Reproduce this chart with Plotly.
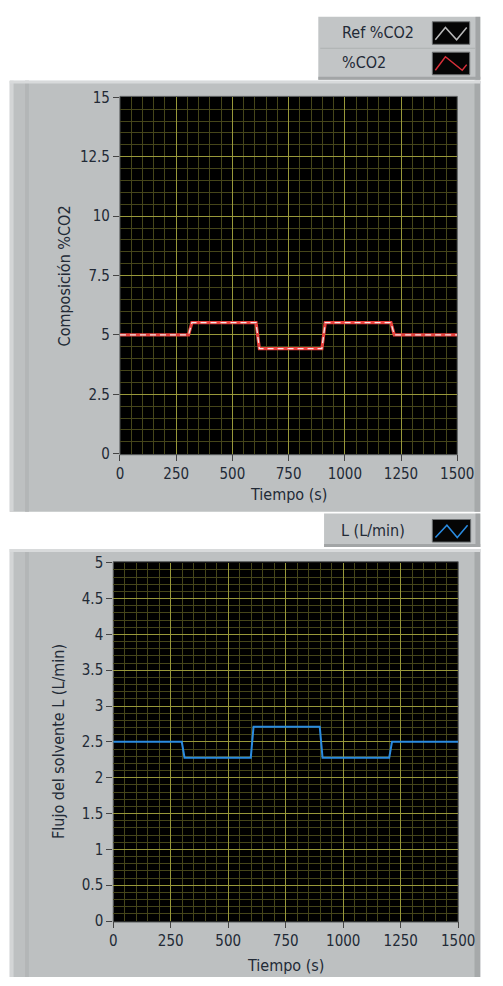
import plotly.graph_objects as go

W, H = 503, 986

# ---- data ----
t_co2 = [0, 305, 320, 605, 620, 898, 913, 1205, 1220, 1500]
ref_co2 = [5.0, 5.0, 5.52, 5.52, 4.42, 4.42, 5.52, 5.52, 5.0, 5.0]
co2 = [5.0, 5.0, 5.52, 5.52, 4.42, 4.42, 5.52, 5.52, 5.0, 5.0]

t_L = [0, 298, 310, 598, 610, 898, 910, 1200, 1212, 1500]
L_flow = [2.5, 2.5, 2.28, 2.28, 2.71, 2.71, 2.28, 2.28, 2.5, 2.5]

x_ticks = [0, 250, 500, 750, 1000, 1250, 1500]
y1_ticks = [0, 2.5, 5, 7.5, 10, 12.5, 15]
y1_labels = ["0", "2.5", "5", "7.5", "10", "12.5", "15"]
y2_ticks = [0, 0.5, 1, 1.5, 2, 2.5, 3, 3.5, 4, 4.5, 5]
y2_labels = ["0", "0.5", "1", "1.5", "2", "2.5", "3", "3.5", "4", "4.5", "5"]

def px(x):
    return x / W

def py(y):
    return 1 - y / H

FONT = "DejaVu Sans Condensed, sans-serif"
TXT = "#222a36"
MAJ = "#98983a"
MIN = "#45451a"
TICKSZ = 15
TITLESZ = 16

fig = go.Figure()
fig.add_trace(go.Scatter(x=t_co2, y=co2, mode="lines", name="%CO2",
                         line=dict(color="#e8403c", width=3.2),
                         xaxis="x", yaxis="y", showlegend=False))
fig.add_trace(go.Scatter(x=t_co2, y=ref_co2, mode="lines", name="Ref %CO2",
                         line=dict(color="#f2e8e8", width=1.3, dash="6px,4px"),
                         xaxis="x", yaxis="y", showlegend=False))
fig.add_trace(go.Scatter(x=t_L, y=L_flow, mode="lines", name="L (L/min)",
                         line=dict(color="#2a8be0", width=2),
                         xaxis="x2", yaxis="y2", showlegend=False))

def xaxis_cfg(domain):
    return dict(domain=domain, range=[0, 1500], tickvals=x_ticks,
                ticks="outside", ticklen=6, tickcolor="#444", tickwidth=1,
                showgrid=True, gridcolor=MAJ, gridwidth=1, zeroline=False,
                minor=dict(dtick=50, tick0=0, showgrid=True, gridcolor=MIN, gridwidth=1),
                tickfont=dict(family=FONT, size=TICKSZ, color=TXT),
                showline=False, fixedrange=True)

def yaxis_cfg(domain, rng, tv, tt, mdt):
    return dict(domain=domain, range=rng, tickvals=tv, ticktext=tt,
                ticks="outside", ticklen=6, tickcolor="#444", tickwidth=1,
                showgrid=True, gridcolor=MAJ, gridwidth=1, zeroline=False,
                minor=dict(dtick=mdt, tick0=0, showgrid=True, gridcolor=MIN, gridwidth=1),
                tickfont=dict(family=FONT, size=TICKSZ, color=TXT),
                showline=False, fixedrange=True)

shapes = []
def panel(x0, y0, x1, y1):
    shapes.append(dict(type="rect", xref="paper", yref="paper", x0=px(x0), x1=px(x1),
                       y0=py(y1), y1=py(y0), fillcolor="#bdc0c1", line=dict(width=0), layer="below"))
    shapes.append(dict(type="rect", xref="paper", yref="paper", x0=px(x1 - 6), x1=px(x1),
                       y0=py(y1), y1=py(y0), fillcolor="#a6a9aa", line=dict(width=0), layer="below"))
    shapes.append(dict(type="rect", xref="paper", yref="paper", x0=px(x0), x1=px(x0 + 4),
                       y0=py(y1), y1=py(y0), fillcolor="#d3d5d6", line=dict(width=0), layer="below"))
    shapes.append(dict(type="rect", xref="paper", yref="paper", x0=px(x0 + 16), x1=px(x0 + 20),
                       y0=py(y1), y1=py(y0), fillcolor="#b3b6b7", line=dict(width=0), layer="below"))
    shapes.append(dict(type="rect", xref="paper", yref="paper", x0=px(x0), x1=px(x1),
                       y0=py(y0 + 3), y1=py(y0), fillcolor="#d8dadb", line=dict(width=0), layer="below"))

panel(6, 73, 497, 512)
panel(6, 550, 497, 986)

def plot_area(x0, y0, x1, y1):
    shapes.append(dict(type="rect", xref="paper", yref="paper", x0=px(x0), x1=px(x1),
                       y0=py(y1), y1=py(y0), fillcolor="#000000",
                       line=dict(color="#5a5d5e", width=1), layer="below"))

plot_area(121, 89, 473, 454)
plot_area(114, 563, 474, 930)

def legend_box(x0, y0, x1, y1):
    shapes.append(dict(type="rect", xref="paper", yref="paper", x0=px(x0), x1=px(x1),
                       y0=py(y1), y1=py(y0), fillcolor="#c2c5c6", line=dict(width=0), layer="below"))
    shapes.append(dict(type="rect", xref="paper", yref="paper", x0=px(x1 - 5), x1=px(x1),
                       y0=py(y1), y1=py(y0), fillcolor="#a2a5a6", line=dict(width=0), layer="below"))
    shapes.append(dict(type="rect", xref="paper", yref="paper", x0=px(x0), x1=px(x1),
                       y0=py(y1), y1=py(y1 - 3), fillcolor="#a2a5a6", line=dict(width=0), layer="below"))

legend_box(328, 8, 497, 72)
legend_box(334, 514, 497, 548)
shapes.append(dict(type="line", xref="paper", yref="paper", x0=px(330), x1=px(492),
                   y0=py(40), y1=py(40), line=dict(color="#aeb1b2", width=1), layer="below"))

def icon(x0, y0, x1, y1, pts, color):
    shapes.append(dict(type="rect", xref="paper", yref="paper", x0=px(x0), x1=px(x1),
                       y0=py(y1), y1=py(y0), fillcolor="#050505",
                       line=dict(color="#6d7072", width=1)))
    path = "M " + " L ".join(f"{px(x0 + a*(x1-x0)):.5f},{py(y0 + b*(y1-y0)):.5f}" for a, b in pts)
    shapes.append(dict(type="path", xref="paper", yref="paper", path=path,
                       line=dict(color=color, width=1.5)))

icon(447, 13, 486, 36, [(0.08, 0.8), (0.35, 0.25), (0.65, 0.8), (0.92, 0.25)], "#b8b8b8")
icon(447, 44, 486, 67, [(0.08, 0.8), (0.35, 0.2), (0.8, 0.8), (0.92, 0.55)], "#d8303a")
icon(447, 520, 487, 543, [(0.08, 0.8), (0.38, 0.25), (0.65, 0.8), (0.92, 0.25)], "#2a8be0")

def ann(text, x, y, anchor="left", angle=0):
    return dict(text=text, x=px(x), y=py(y), xref="paper", yref="paper", showarrow=False,
                xanchor=anchor, yanchor="middle", textangle=angle,
                font=dict(family=FONT, size=TITLESZ, color=TXT))

annotations = [
    ann("Ref %CO2", 351, 24),
    ann("%CO2", 351, 55),
    ann("L (L/min)", 350, 531),
    ann("Tiempo (s)", 297, 495, "center"),
    ann("Tiempo (s)", 294, 974, "center"),
    ann("Composición %CO2", 63, 272, "center", -90),
    ann("Flujo del solvente L (L/min)", 57, 746, "center", -90),
]

fig.update_layout(
    width=W, height=H, autosize=False,
    margin=dict(l=0, r=0, t=0, b=0),
    paper_bgcolor="white", plot_bgcolor="black",
    xaxis=dict(**xaxis_cfg([px(121), px(473)]), anchor="y"),
    yaxis=dict(**yaxis_cfg([py(453), py(90)], [0, 15], y1_ticks, y1_labels, 0.5), anchor="x"),
    xaxis2=dict(**xaxis_cfg([px(114), px(474)]), anchor="y2"),
    yaxis2=dict(**yaxis_cfg([py(929), py(564)], [0, 5], y2_ticks, y2_labels, 0.1), anchor="x2"),
    shapes=shapes, annotations=annotations, showlegend=False,
)

fig.write_html("out.html")
